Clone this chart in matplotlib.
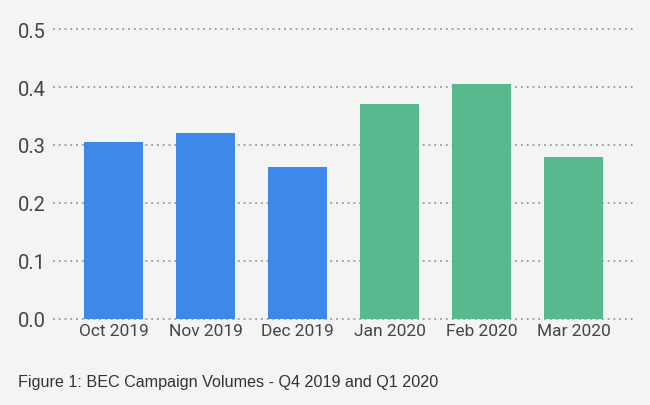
import matplotlib
matplotlib.use('Agg')
import matplotlib.pyplot as plt

months = ['Oct 2019', 'Nov 2019', 'Dec 2019', 'Jan 2020', 'Feb 2020', 'Mar 2020']
volumes = [0.305, 0.321, 0.262, 0.371, 0.405, 0.279]
quarter_colors = ['#3d88e8', '#3d88e8', '#3d88e8', '#58b98f', '#58b98f', '#58b98f']
yticks = [0.0, 0.1, 0.2, 0.3, 0.4, 0.5]
caption = 'Figure 1: BEC Campaign Volumes - Q4 2019 and Q1 2020'

bg = '#f4f4f4'
text_color = '#454545'

fig = plt.figure(figsize=(6.5, 4.06), dpi=100, facecolor=bg)
ax = fig.add_axes([0.0815, 0.212, 0.8955, 0.714])
ax.set_facecolor(bg)

x = range(len(months))
ax.bar(x, volumes, width=0.64, color=quarter_colors, zorder=3)

ax.set_ylim(0, 0.5)
ax.set_xlim(-0.66, 5.67)
ax.set_yticks(yticks)
ax.set_yticklabels([f'{v:.1f}' for v in yticks], fontsize=14.5, color=text_color,
                   family='Roboto')
ax.set_xticks(list(x))
ax.set_xticklabels(months, fontsize=12.5, color=text_color, family='Roboto')
ax.tick_params(axis='both', length=0)
ax.tick_params(axis='y', pad=5)
ax.tick_params(axis='x', pad=3)

for v in yticks:
    ax.axhline(v, color='#999999', linewidth=1.3, linestyle=(0, (1, 2.2)),
               zorder=1, clip_on=False)

for s in ax.spines.values():
    s.set_visible(False)

fig.text(18 / 650, 1 - 387 / 406, caption, fontsize=11.6, color='#333333',
         family='Liberation Sans', va='baseline', ha='left')

plt.savefig('out.png', dpi=100, facecolor=bg)
